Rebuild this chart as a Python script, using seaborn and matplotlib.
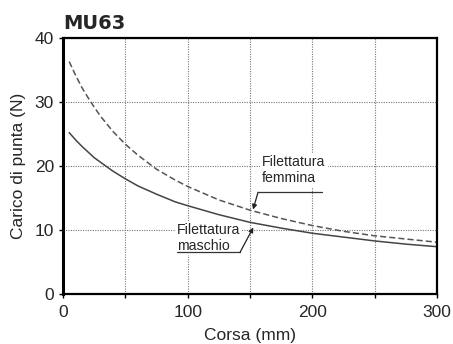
import matplotlib
matplotlib.use("Agg")
import matplotlib.pyplot as plt
import pandas as pd
import seaborn as sns

# Stroke (mm) vs tip load (N)
corsa = [5, 10, 15, 20, 25, 30, 40, 50, 60, 75, 90, 100, 125, 150, 175, 200, 225, 250, 275, 300]
femmina = [36.3, 34.2, 32.3, 30.7, 29.2, 27.8, 25.4, 23.4, 21.7, 19.5, 17.8, 16.8,
           14.7, 13.1, 11.8, 10.7, 9.8, 9.1, 8.6, 8.1]
maschio = [25.2, 24.1, 23.1, 22.2, 21.3, 20.6, 19.2, 18.0, 16.9, 15.6, 14.4, 13.8,
           12.4, 11.2, 10.3, 9.5, 8.9, 8.3, 7.8, 7.4]

x_ticks = [0, 100, 200, 300]
y_ticks = [0, 10, 20, 30, 40]

df = pd.DataFrame({"corsa": corsa, "femmina": femmina, "maschio": maschio})

sns.set_style("white")
plt.rcParams["font.family"] = ["Liberation Sans", "DejaVu Sans"]

fig = plt.figure(figsize=(4.53, 3.44), dpi=100)
ax = fig.add_axes([0.139, 0.145, 0.826, 0.745])

sns.lineplot(data=df, x="corsa", y="femmina", ax=ax, color="#555555",
             linestyle=(0, (4, 2)), linewidth=1.1)
sns.lineplot(data=df, x="corsa", y="maschio", ax=ax, color="#444444",
             linewidth=1.1)

ax.set_xlim(0, 300)
ax.set_ylim(0, 40)
ax.set_xticks(x_ticks)
ax.set_xticks([50, 150, 250], minor=True)
ax.set_yticks(y_ticks)
ax.grid(True, which="both", linestyle=(0, (1, 1.2)), color="#777777", linewidth=0.8)
ax.tick_params(axis="both", which="both", direction="out", length=3, width=1,
               labelsize=12.5, color="black", bottom=True, left=True)
ax.tick_params(axis="x", pad=5)
ax.tick_params(axis="y", pad=3.5)
for s in ax.spines.values():
    s.set_color("black")
    s.set_linewidth(1.6)
ax.spines["left"].set_linewidth(2.2)

ax.set_xlabel("Corsa (mm)", fontsize=12.5, labelpad=5.5)
ax.set_ylabel("Carico di punta (N)", fontsize=12.5, labelpad=6.5)
fig.text(0.139, 0.916, "MU63", fontsize=14, fontweight="bold", family="DejaVu Sans",
         ha="left", va="baseline")

arrow = dict(arrowstyle="-|>", color="#222222", lw=0.9, mutation_scale=7,
             shrinkA=0, shrinkB=0)
box = dict(facecolor="white", edgecolor="none", pad=1.5)

ax.text(159.6, 19.4, "Filettatura\nfemmina", fontsize=10.2, ha="left", va="center",
        bbox=box, zorder=3)
ax.plot([207.6, 156.4], [15.9, 15.9], color="#333333", lw=0.9)
ax.annotate("", xy=(152.4, 13.2), xytext=(156.4, 15.9), arrowprops=arrow)

ax.text(91.4, 8.8, "Filettatura\nmaschio", fontsize=10.2, ha="left", va="center",
        bbox=box, zorder=3)
ax.plot([91.4, 141.9], [6.5, 6.5], color="#333333", lw=0.9, zorder=4)
ax.annotate("", xy=(152.6, 10.4), xytext=(141.9, 6.5), arrowprops=arrow)

fig.savefig("out.png", dpi=100)
